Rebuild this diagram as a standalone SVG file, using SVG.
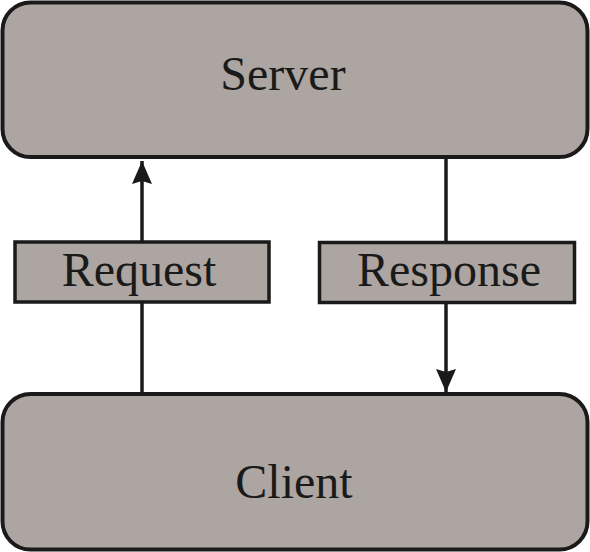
<svg xmlns="http://www.w3.org/2000/svg" width="590" height="552" viewBox="0 0 590 552">
<style>
.node{fill:#ada5a1;stroke:#1a1a1a;stroke-width:4}
.t{font-family:"Liberation Serif","Times New Roman",serif;fill:#1a1a1a;text-anchor:middle;font-size:48px}
.c{stroke:#1a1a1a;stroke-width:3.5;fill:none}
</style>
<defs>
<marker id="ah" viewBox="0 0 23 20" refX="23" refY="10" markerWidth="23" markerHeight="20" markerUnits="userSpaceOnUse" orient="auto">
<path d="M0,0 L23,10 L0,20 L3,10 Z" fill="#1a1a1a"/>
</marker>
</defs>
<g id="connectors">
<line class="c" x1="142" y1="393" x2="142" y2="161" marker-end="url(#ah)"/>
<line class="c" x1="446" y1="157" x2="446" y2="392" marker-end="url(#ah)"/>
</g>
<g id="server">
<rect class="node" x="2.5" y="2.5" width="585" height="154.5" rx="28"/>
<text class="t" x="283" y="90">Server</text>
</g>
<g id="client">
<rect class="node" x="2.5" y="394" width="585" height="155.5" rx="28"/>
<text class="t" x="294" y="498">Client</text>
</g>
<g id="request">
<rect class="node" x="15" y="242" width="254" height="60" style="stroke-width:3.5"/>
<text class="t" x="139" y="286">Request</text>
</g>
<g id="response">
<rect class="node" x="319.5" y="242.5" width="255" height="60" style="stroke-width:3.5"/>
<text class="t" x="449" y="286">Response</text>
</g>
</svg>
